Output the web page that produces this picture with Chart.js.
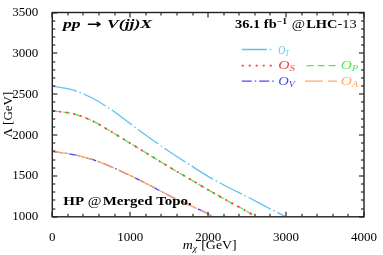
<!DOCTYPE html>
<html><head><meta charset="utf-8">
<script src="https://cdn.jsdelivr.net/npm/chart.js@4/dist/chart.umd.min.js"></script>
<style>html,body{margin:0;padding:0;background:#fff;overflow:hidden}#wrap{width:383px;height:255px;position:relative}</style>
</head><body><div id="wrap"><canvas id="c" width="383" height="255"></canvas></div>
<script>
// ---- data ----
const massT   = [0,250,500,750,1000,1250,1500,1750,2000,2250,2500,2750,3000];
const lambdaT = [2600,2555,2460,2315,2140,1965,1800,1645,1495,1365,1245,1120,1000];
const massSP  = [0,250,500,750,1000,1250,1500,1750,2000,2250,2500,2610];
const lambdaS = [2295,2265,2180,2045,1900,1755,1610,1470,1330,1195,1065,1000];
const lambdaP = [2295,2265,2180,2045,1900,1755,1610,1470,1330,1195,1065,1000];
const massVA  = [0,250,500,750,1000,1250,1500,1750,2000,2064];
const lambdaV = [1800,1765,1705,1615,1505,1385,1260,1148,1035,1000];
const lambdaA = [1800,1765,1705,1615,1505,1385,1260,1148,1035,1000];
const xTicks = [0,1000,2000,3000,4000];
const yTicks = [1000,1500,2000,2500,3000,3500];
const seriesNames = ['T','S','P','V','A'];

const pts = (xs, ys) => xs.map((x,i)=>({x:x, y:ys[i]}));
const SERIF = '"Liberation Serif", "DejaVu Serif", serif';

const styles = {
  T:{c:'rgb(95,195,240)', d:[25,3,1.5,3], w:1.3},
  S:{c:'rgb(255,60,60)',  d:[2,5],        w:1.8},
  P:{c:'rgb(80,235,80)',  d:[7,4],        w:1.3},
  V:{c:'rgb(70,70,255)',  d:[10,3,1.5,3], w:1.3},
  A:{c:'rgb(255,170,100)',d:[18,5],       w:1.3}
};
const seriesData = {T:pts(massT,lambdaT), S:pts(massSP,lambdaS), P:pts(massSP,lambdaP), V:pts(massVA,lambdaV), A:pts(massVA,lambdaA)};
const orders = {T:0, S:1, P:2, V:3, A:2};

const datasets = seriesNames.map(k=>({
  label:'O_'+k, data:seriesData[k], borderColor:styles[k].c, backgroundColor:styles[k].c,
  borderDash:styles[k].d, borderWidth:styles[k].w, pointRadius:0, fill:false,
  cubicInterpolationMode:'monotone', order:orders[k]
}));

function drawRunFit(ctx, segs, x0, x1, baseline){
  let total = 0; const ws = [];
  segs.forEach(s=>{ctx.font=s.f; const w=ctx.measureText(s.t).width; ws.push(w); total += w + (s.gap||0);});
  const sc = (x1-x0)/total;
  let x = x0;
  segs.forEach((s,i)=>{
    ctx.save(); ctx.font=s.f; ctx.fillStyle=s.c||'#000'; ctx.textBaseline='alphabetic'; ctx.textAlign='left';
    ctx.translate(x, baseline + (s.dy||0)); ctx.scale(sc,1); ctx.fillText(s.t,0,0); ctx.restore();
    x += (ws[i] + (s.gap||0))*sc;
  });
}

const decor = {
  id:'decor',
  afterDraw(chart){
    const ctx = chart.ctx, a = chart.chartArea;
    const W = a.right - a.left, H = a.bottom - a.top;
    ctx.save();
    ctx.setLineDash([]);
    ctx.fillStyle = '#000';
    // x ticks: 20 intervals of 200 GeV, major every 5th
    for (let i = 0; i <= 20; i++) {
      const px = Math.round(a.left + W * i / 20);
      const L = (i % 5 === 0) ? 5 : 3;
      ctx.fillRect(px - 0.5, a.bottom - L, 1, L);
      ctx.fillRect(px - 0.5, a.top, 1, L);
    }
    // y ticks: 25 intervals of 100 GeV, major every 5th
    for (let j = 0; j <= 25; j++) {
      const py = Math.round(a.bottom - H * j / 25);
      const L = (j % 5 === 0) ? 5 : 3;
      ctx.fillRect(a.left, py - 0.5, L, 1);
      ctx.fillRect(a.right - L, py - 0.5, L, 1);
    }
    ctx.lineWidth=1.4; ctx.strokeStyle='#222'; ctx.strokeRect(a.left,a.top,W,H);
    ctx.restore();

    ctx.save();
    const B='bold 12px '+SERIF, BI='bold italic 12px '+SERIF, N='12px '+SERIF;
    drawRunFit(ctx,[{t:'pp',f:BI,gap:4},{t:'\u2192',f:'bold 12px "DejaVu Sans"',gap:4},{t:'V(jj)X',f:BI}],63,152,28.3);
    drawRunFit(ctx,[{t:'36.1',f:B,gap:3},{t:'fb',f:B},{t:'\u22121',f:'bold 8px '+SERIF,dy:-4.5,gap:4},{t:'@',f:N,gap:1},{t:'LHC',f:B},{t:'-13',f:N}],235,356.7,28.3);
    drawRunFit(ctx,[{t:'HP',f:B,gap:3},{t:'@',f:N,gap:1},{t:'Merged',f:B,gap:3},{t:'Topo.',f:B}],63.3,191.7,205);
    drawRunFit(ctx,[{t:'m',f:'italic 13px '+SERIF},{t:'\u03c7',f:'italic 9px '+SERIF,dy:2.5,gap:4},{t:'[GeV]',f:'13px '+SERIF}],182.7,236.7,248.5);
    const ds = chart.data.datasets;
    const sample=(i,x1,x2,yy)=>{const d=ds[i]; ctx.save(); ctx.strokeStyle=d.borderColor; ctx.lineWidth=d.borderWidth; ctx.setLineDash(d.borderDash); ctx.beginPath(); ctx.moveTo(x1,yy); ctx.lineTo(x2,yy); ctx.stroke(); ctx.restore();};
    const lab=(i,sub,x1,x2,base)=>{const c=ds[i].borderColor; drawRunFit(ctx,[{t:'O',f:'italic 13px '+SERIF,c:c},{t:sub,f:'italic 9px '+SERIF,c:c,dy:2.3}],x1,x2,base);};
    sample(0,241.7,271.5,49.5); lab(0,'T',278.3,289,53.5);
    sample(1,241.7,276,65.7);   lab(1,'S',278.3,295,69);
    sample(2,306.7,337,65.7);   lab(2,'P',340.7,358.3,69);
    sample(3,241.7,275,81.2);   lab(3,'V',278.3,295,85);
    sample(4,305,337,81.2);     lab(4,'A',340.7,358.3,85);
    ctx.restore();
  }
};

new Chart(document.getElementById('c'), {
  type:'line',
  data:{datasets:datasets},
  options:{
    responsive:false, animation:false, devicePixelRatio:1,
    layout:{padding:{left:0,right:15.3,top:7.3,bottom:0}},
    plugins:{legend:{display:false}, tooltip:{enabled:false}},
    scales:{
      x:{type:'linear', min:0, max:4000,
        afterBuildTicks:s=>{s.ticks=xTicks.map(v=>({value:v}));},
        afterFit:s=>{s.height=38.2;},
        grid:{display:false}, border:{display:false},
        ticks:{font:{family:SERIF,size:13,lineHeight:1}, color:'#000', padding:6, maxRotation:0, autoSkip:false, callback:v=>String(v)}},
      y:{type:'linear', min:1000, max:3500,
        afterBuildTicks:s=>{s.ticks=yTicks.map(v=>({value:v}));},
        afterFit:s=>{s.width=52.3;},
        grid:{display:false}, border:{display:false},
        title:{display:true, text:'\u039b [GeV]', font:{family:SERIF,size:13}, color:'#000', padding:{top:1,bottom:0}},
        ticks:{font:{family:SERIF,size:13,lineHeight:1}, color:'#000', padding:6, autoSkip:false, callback:v=>String(v)}}
    }
  },
  plugins:[decor]
});
</script></body></html>
